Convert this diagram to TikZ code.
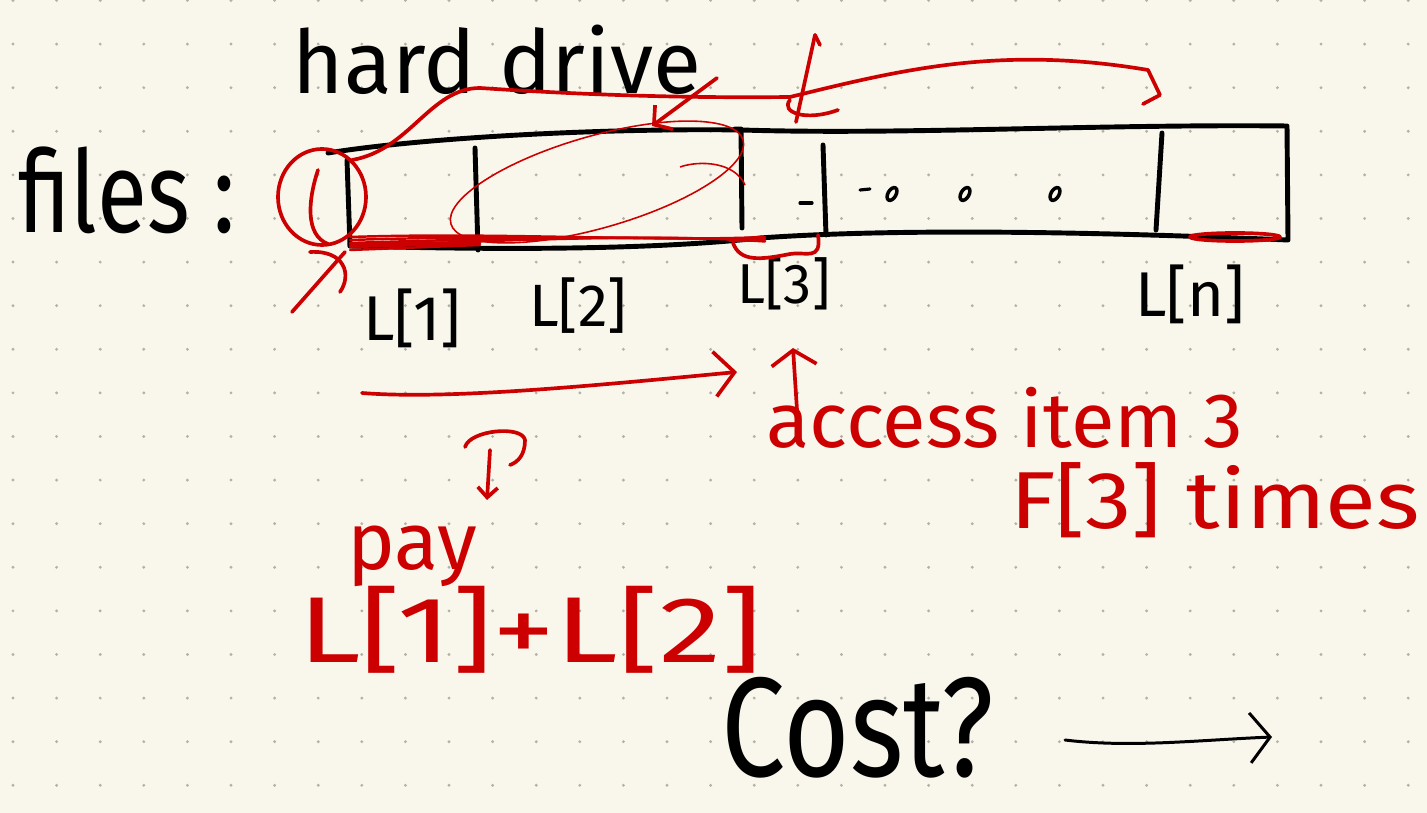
\documentclass[tikz,border=0pt]{standalone}
\usepackage{fontspec}
\setmainfont{Fira Sans}
\usetikzlibrary{arrows.meta}

\definecolor{paper}{RGB}{249,247,236}
\definecolor{gridc}{RGB}{178,178,170}
\definecolor{pen}{RGB}{204,0,0}

\tikzset{
  ink/.style={inner sep=0pt,font=\fontsize{#1}{#1}\selectfont},
  boxline/.style={line width=2.8pt,line cap=round,line join=round},
  redline/.style={pen,line width=2.1pt,line cap=round,line join=round},
  thinred/.style={pen,line width=0.9pt},
  barb/.style={-{Straight Barb[length=4mm,width=9mm,line width=2.1pt]}}
}

\begin{document}
\begin{tikzpicture}[x=0.02cm,y=-0.02cm]
\useasboundingbox[fill=paper] (0,0) rectangle (1427,813);
% ---------- dotted paper ----------
\foreach \i in {0,...,32}
  \foreach \j in {0,...,18}
    \fill[gridc] ({13+43.6*\i},{0.5+43.6*\j}) circle (1.6);

% ---------- black labels ----------
\node[ink=50pt] (hardDrive) at (497,60) {hard drive};
\node[ink=52pt] (filesLbl) at (127,190) {\scalebox{1}[1.25]{files :}};
\node[ink=36pt] (lOne) at (412,318) {L[1]};
\node[ink=34pt] (lTwo) at (578,306) {L[2]};
\node[ink=32pt] (lThree) at (784,284) {L[3]};
\node[ink=36pt] (lN) at (1190,294) {L[n]};
\node[ink=62pt] (costLbl) at (858,728) {\scalebox{1.05}[1.3]{Cost?}};

% ---------- the drive strip ----------
\draw[boxline] (328,153) .. controls (420,138) and (600,128) .. (742,130)
  .. controls (900,135) and (1100,124) .. (1287,126) -- (1288,240)
  .. controls (1100,232) and (900,228) .. (760,238)
  .. controls (650,250) and (500,250) .. (350,246);
\draw[boxline] (347,160) -- (350,246);
\draw[boxline] (475,148) -- (478,250);
\draw[boxline] (735,129) -- (741,129) -- (742,228);
\draw[boxline] (823,145) -- (826,235);
\draw[boxline] (1162,133) -- (1156,230);
% marks for the files in between
\draw[boxline,line width=1.8pt] (800,203) -- (812,203);
\draw[boxline,line width=1.8pt] (860,190) -- (870,189);
\foreach \cx in {892,965,1055}
  \draw[boxline,line width=2pt,rotate around={60:(\cx,194)}] (\cx,194) ellipse (7 and 4);

% ---------- cost arrow ----------
\coordinate (costS) at (1065,740);
\coordinate (costE) at (1272,737);
\draw[boxline,line width=1.7pt,-{Straight Barb[length=4mm,width=10mm,line width=1.7pt]}]
  (costS) .. controls (1130,748) and (1200,740) .. (costE);

% ---------- red notes ----------
\node[ink=44pt,pen] (accessLbl) at (1005,418) {\scalebox{1.03}[1]{access item 3}};
\node[ink=46pt,pen] (timesLbl) at (1215,500) {\scalebox{1.15}[1]{F[3] times}};
\node[ink=46pt,pen] (payLbl) at (412,556) {pay};
\node[ink=56pt,pen] (sumLbl) at (530,630) {\scalebox{1.28}[0.95]{L[1]+L[2]}};

% circle round the start, and the crossing stroke
\draw[redline] (322,197) ellipse (44 and 48);
\draw[redline] (318,170) .. controls (308,200) and (305,235) .. (328,244);
\draw[redline] (345,252) -- (292,312);
\draw[redline] (310,252) .. controls (345,250) and (352,275) .. (340,292);
% long line over the top
\draw[redline] (352,160) .. controls (410,150) and (430,88) .. (480,88)
  .. controls (600,96) and (700,98) .. (790,97)
  .. controls (900,70) and (1000,45) .. (1148,70) -- (1160,95) -- (1143,104);
\draw[redline] (815,35) -- (820,45);
\draw[redline] (815,35) -- (796,122);
\draw[redline] (790,100) .. controls (780,112) and (805,122) .. (838,110);
% pointer to the top edge
\coordinate (ptrS) at (717,78);
\coordinate (ptrE) at (652,126);
\draw[redline,-{Straight Barb[length=2.5mm,width=6mm,line width=2.1pt]}] (ptrS) -- (ptrE);
% ellipse round L[2]
\draw[thinred,rotate around={16:(597,182)}] (597,182) ellipse (152 and 46);
\draw[thinred] (680,167) .. controls (700,160) and (735,162) .. (745,185);
% scribble along the bottom
\foreach \dy in {-6,-3,0,3}
  \draw[redline,line width=1.4pt] (350,{243+\dy}) .. controls (500,{238+\dy}) and (650,{236-\dy}) .. (765,{240+\dy/2});
\foreach \dy in {0,3,6}
  \draw[redline,line width=1.4pt] (350,{244+\dy}) -- (480,{242+\dy/2});
% brace under L[3], mark under L[n]
\draw[redline] (730,240) -- (760,240);
\draw[redline] (733,243) .. controls (740,262) and (760,260) .. (790,254)
  .. controls (805,251) and (822,262) .. (818,235);
\draw[redline] (1235,237) ellipse (45 and 4);
% arrow along the strip
\coordinate (runS) at (362,393);
\coordinate (runE) at (737,372);
\draw[redline,barb] (runS) .. controls (450,400) and (600,385) .. (runE);
% arrow up to L[3]
\coordinate (upS) at (797,410);
\coordinate (upE) at (793,348);
\draw[redline,-{Straight Barb[length=3mm,width=9mm,line width=2.1pt]}] (upS) -- (upE);
% arrow down to pay
\coordinate (downS) at (490,450);
\coordinate (downE) at (487,500);
\draw[redline,-{Straight Barb[length=2mm,width=4mm,line width=2.1pt]}] (downS) -- (downE);
\draw[redline] (465,447) .. controls (470,430) and (522,425) .. (525,440)
  .. controls (525,455) and (518,462) .. (510,465);
\end{tikzpicture}
\end{document}
